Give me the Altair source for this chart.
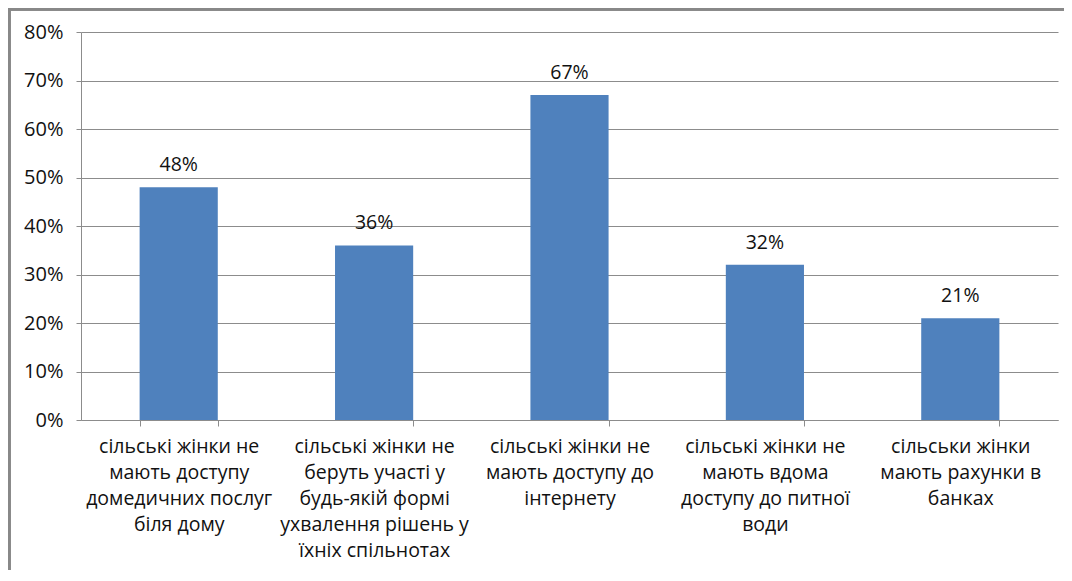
import altair as alt
import pandas as pd

categories = [
    "сільські жінки не|мають доступу|домедичних послуг|біля дому",
    "сільські жінки не|беруть участі у|будь-якій формі|ухвалення рішень у|їхніх спільнотах",
    "сільські жінки не|мають доступу до|інтернету",
    "сільські жінки не|мають вдома|доступу до питної|води",
    "сільськи жінки|мають рахунки в|банках",
]
values = [0.48, 0.36, 0.67, 0.32, 0.21]
y_ticks = [0, 0.1, 0.2, 0.3, 0.4, 0.5, 0.6, 0.7, 0.8]

df = pd.DataFrame({"cat": categories, "val": values})

FONT = "Open Sans"
FS = 19.5
W, H = 977, 388

x_enc = alt.X(
    "cat:N",
    sort=None,
    title=None,
    scale=alt.Scale(paddingInner=0.6, paddingOuter=0.3),
    axis=alt.Axis(
        labelAngle=0,
        labelExpr="split(datum.label, '|')",
        labelFont=FONT,
        labelFontSize=FS,
        labelColor="#111111",
        labelLineHeight=26,
        labelPadding=11,
        labelLimit=0,
        tickBand="extent",
        tickSize=6,
        tickColor="#8c8c8c",
        domainColor="#8c8c8c",
        grid=False,
        labelBaseline="top",
    ),
)

y_enc = alt.Y(
    "val:Q",
    title=None,
    scale=alt.Scale(domain=[0, 0.8], nice=False),
    axis=alt.Axis(
        values=y_ticks,
        format=".0%",
        labelFont=FONT,
        labelFontSize=20,
        labelColor="#111111",
        labelPadding=13,
        tickSize=5,
        tickColor="#8c8c8c",
        domainColor="#8c8c8c",
        gridColor="#8c8c8c",
        gridWidth=1,
    ),
)

bars = alt.Chart(df).mark_bar(color="#4F81BD").encode(x=x_enc, y=y_enc)

labels = alt.Chart(df).mark_text(
    baseline="bottom", dy=-12, font=FONT, fontSize=FS, color="#111111"
).encode(
    x=alt.X("cat:N", sort=None),
    y="val:Q",
    text=alt.Text("val:Q", format=".0%"),
)

top_border = alt.Chart(df).mark_rule(color="#888888", strokeWidth=3, clip=False).encode(
    x=alt.value(-73), x2=alt.value(1060), y=alt.value(-23)
)
left_border = alt.Chart(df).mark_rule(color="#888888", strokeWidth=3, clip=False).encode(
    x=alt.value(-72), y=alt.value(-24), y2=alt.value(570)
)

chart = (
    alt.layer(bars, labels, top_border, left_border)
    .properties(
        width=W,
        height=H,
        autosize=alt.AutoSizeParams(type="none"),
        padding={"left": 73, "top": 24, "right": 6, "bottom": 150},
        background="white",
    )
    .configure_view(stroke=None)
)

chart.save("out.html", embed_options={"renderer": "svg", "actions": False})
